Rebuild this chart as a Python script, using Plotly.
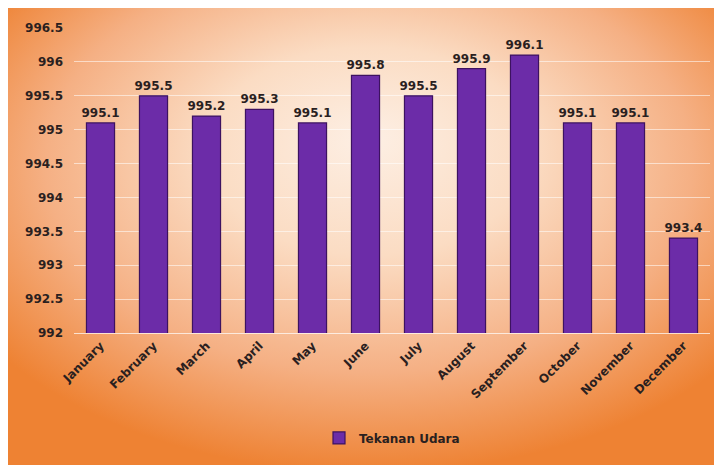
import base64
import plotly.graph_objects as go

months = ["January", "February", "March", "April", "May", "June", "July",
          "August", "September", "October", "November", "December"]
pressure = [995.1, 995.5, 995.2, 995.3, 995.1, 995.8, 995.5, 995.9, 996.1, 995.1, 995.1, 993.4]
tick_vals = [992, 992.5, 993, 993.5, 994, 994.5, 995, 995.5, 996, 996.5]
tick_text = ["992", "992.5", "993", "993.5", "994", "994.5", "995", "995.5", "996", "996.5"]
series_name = "Tekanan Udara"

W, H = 722, 465
ml, mr, mt, mb = 66, 20, 20, 140
pw, ph = W - ml - mr, H - mt - mb

svg = '''<svg xmlns="http://www.w3.org/2000/svg" width="722" height="465" viewBox="0 0 722 465" preserveAspectRatio="none">
<defs><radialGradient id="g" cx="0.5" cy="0.36" r="0.64" fx="0.5" fy="0.28">
<stop offset="0" stop-color="#fdefe4"/>
<stop offset="0.35" stop-color="#fbdcc3"/>
<stop offset="0.7" stop-color="#f5b084"/>
<stop offset="1" stop-color="#ee8233"/>
</radialGradient></defs>
<rect width="722" height="465" fill="url(#g)"/>
</svg>'''
src = "data:image/svg+xml;base64," + base64.b64encode(svg.encode()).decode()

font_bold = "DejaVu Sans"
txt = "#2a1f1f"

fig = go.Figure()
fig.add_trace(go.Bar(
    x=months, y=pressure, name=series_name,
    marker=dict(color="#6c2ca8", line=dict(color="#3d1260", width=1.2)),
    text=[f"{v:.1f}" for v in pressure], textposition="outside",
    textfont=dict(family=font_bold, size=12, color=txt, weight="bold"),
    constraintext="none",
    cliponaxis=False,
))

fig.update_layout(
    width=W, height=H,
    margin=dict(l=ml, r=mr, t=mt, b=mb, autoexpand=False),
    paper_bgcolor="white", plot_bgcolor="rgba(0,0,0,0)",
    bargap=0.47,
    uniformtext=dict(mode=False),
    showlegend=True,
    legend=dict(orientation="h", x=0.5, xanchor="center", y=-0.344, yanchor="middle",
                font=dict(family=font_bold, size=12, color=txt, weight="bold"),
                bgcolor="rgba(0,0,0,0)", itemwidth=30),
    images=[dict(source=src, xref="paper", yref="paper",
                 x=-ml / pw, y=(H - mb) / ph,
                 sizex=W / pw, sizey=H / ph,
                 xanchor="left", yanchor="top", sizing="stretch", layer="below")],
    xaxis=dict(tickangle=-45, tickfont=dict(family=font_bold, size=12, color=txt, weight="bold"),
               showgrid=False, showline=True, linecolor="rgba(255,255,255,0.7)", ticks=""),
    yaxis=dict(range=[992, 996.5], tickvals=tick_vals, ticktext=tick_text,
               tickfont=dict(family=font_bold, size=12, color=txt, weight="bold"),
               showgrid=True, gridcolor="rgba(255,255,255,0.55)", gridwidth=1,
               zeroline=False, showline=False, ticks="", ticklabelstandoff=10),
)

fig.write_html("out.html")
